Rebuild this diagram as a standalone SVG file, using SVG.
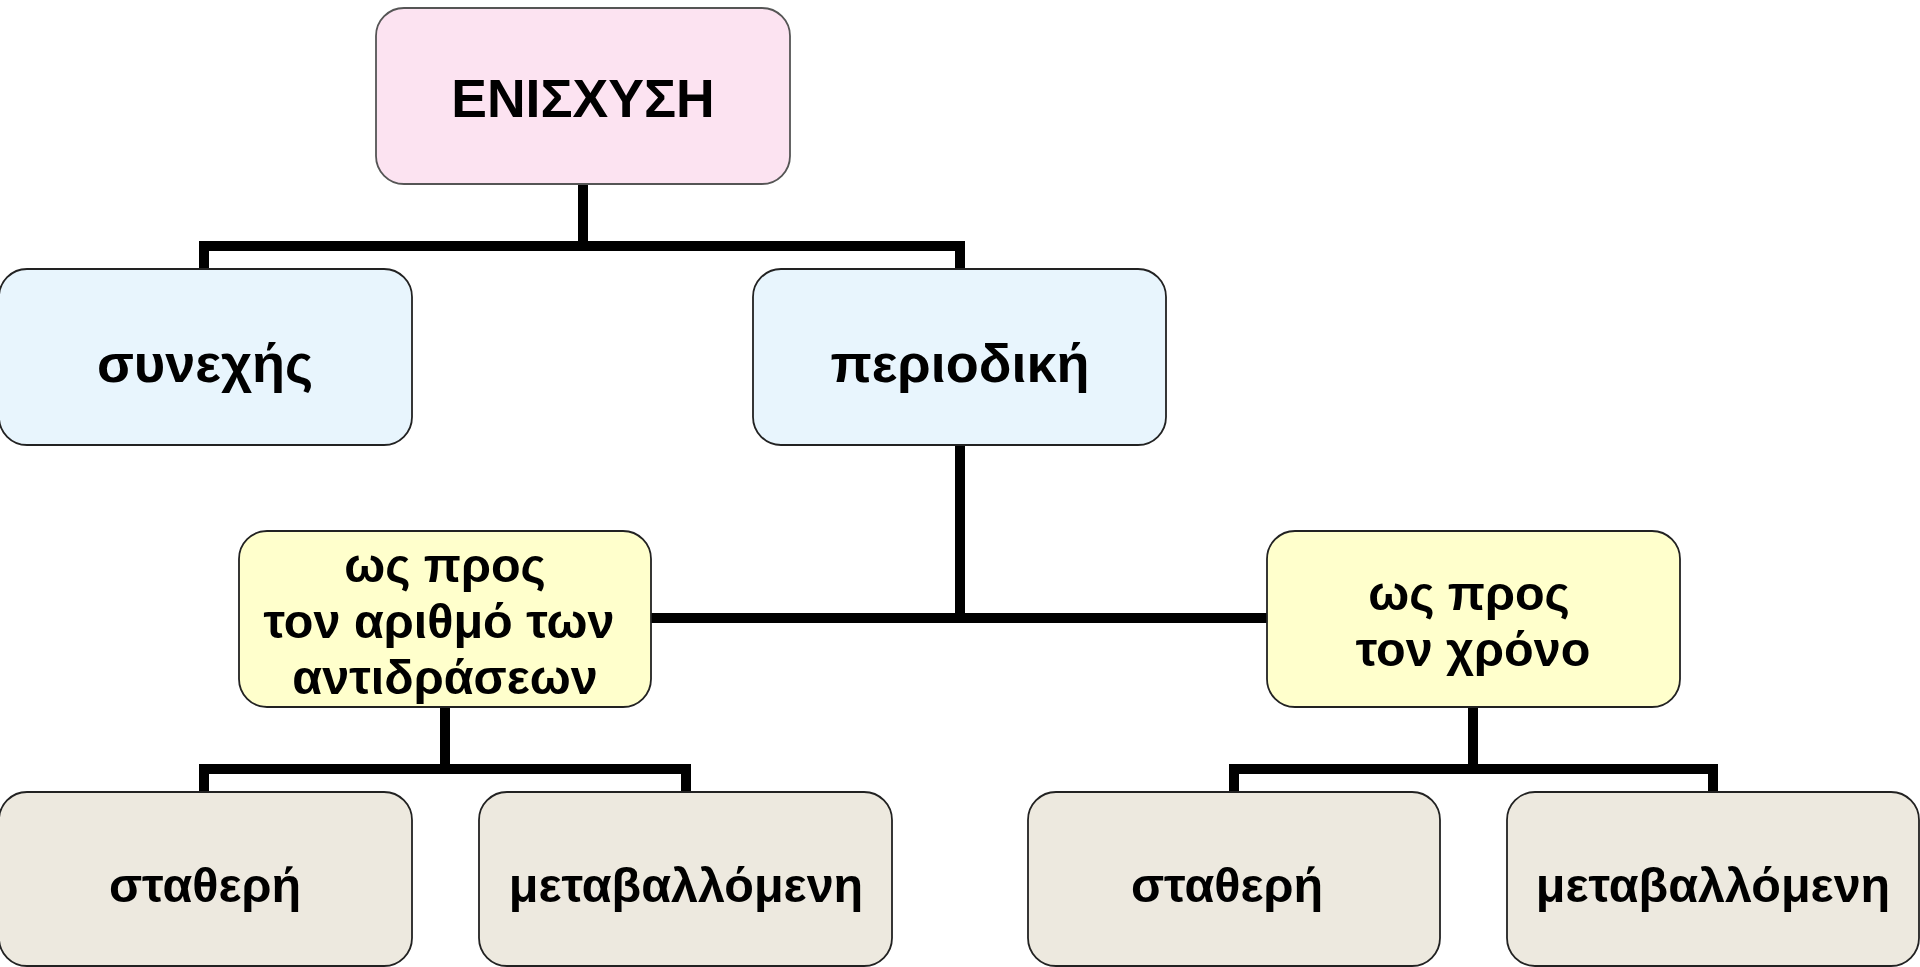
<svg xmlns="http://www.w3.org/2000/svg" width="1920" height="967" viewBox="0 0 1920 967">
<style>
.box{stroke:#222;stroke-width:1.8}
.root{fill:#fce3f1;stroke:#555}
.l1{fill:#e8f5fd}
.l2{fill:#ffffcc}
.l3{fill:#ede9df}
text{font-family:"Liberation Sans",Arial,sans-serif;font-weight:bold;fill:#000;text-anchor:middle}
.t{font-size:48.5px}
.big{font-size:54px}
.conn{fill:none;stroke:#000;stroke-width:10;stroke-linejoin:miter}
</style>
<rect width="1920" height="967" fill="#fff"/>
<g id="connectors">
<path class="conn" d="M583,184 V246 M204,269 V246 H960 V269"/>
<path class="conn" d="M960,445 V618 M651,618 H1267"/>
<path class="conn" d="M445,707 V769 M204,792 V769 H686 V792"/>
<path class="conn" d="M1473,707 V769 M1234,792 V769 H1713 V792"/>
</g>
<g id="n-root"><rect class="box root" x="376" y="8" width="414" height="176" rx="28"/><text x="583" y="117" style="font-size:53.5px">ΕΝΙΣΧΥΣΗ</text></g>
<g id="n-syneches"><rect class="box l1" x="-1" y="269" width="413" height="176" rx="28"/><text class="big" x="205" y="382">συνεχής</text></g>
<g id="n-periodiki"><rect class="box l1" x="753" y="269" width="413" height="176" rx="28"/><text class="big" x="960" y="382">περιοδική</text></g>
<g id="n-arithmos"><rect class="box l2" x="239" y="531" width="412" height="176" rx="28"/><text class="t" x="445" y="582">ως προς</text><text class="t" x="439" y="638">τον αριθμό των</text><text class="t" x="445" y="694">αντιδράσεων</text></g>
<g id="n-xronos"><rect class="box l2" x="1267" y="531" width="413" height="176" rx="28"/><text class="t" x="1469" y="610">ως προς</text><text class="t" x="1473" y="666">τον χρόνο</text></g>
<g id="n-stath1"><rect class="box l3" x="-1" y="792" width="413" height="174" rx="28"/><text class="t" x="205" y="902">σταθερή</text></g>
<g id="n-metav1"><rect class="box l3" x="479" y="792" width="413" height="174" rx="28"/><text class="t" x="686" y="902">μεταβαλλόμενη</text></g>
<g id="n-stath2"><rect class="box l3" x="1028" y="792" width="412" height="174" rx="28"/><text class="t" x="1227" y="902">σταθερή</text></g>
<g id="n-metav2"><rect class="box l3" x="1507" y="792" width="412" height="174" rx="28"/><text class="t" x="1713" y="902">μεταβαλλόμενη</text></g>
</svg>
